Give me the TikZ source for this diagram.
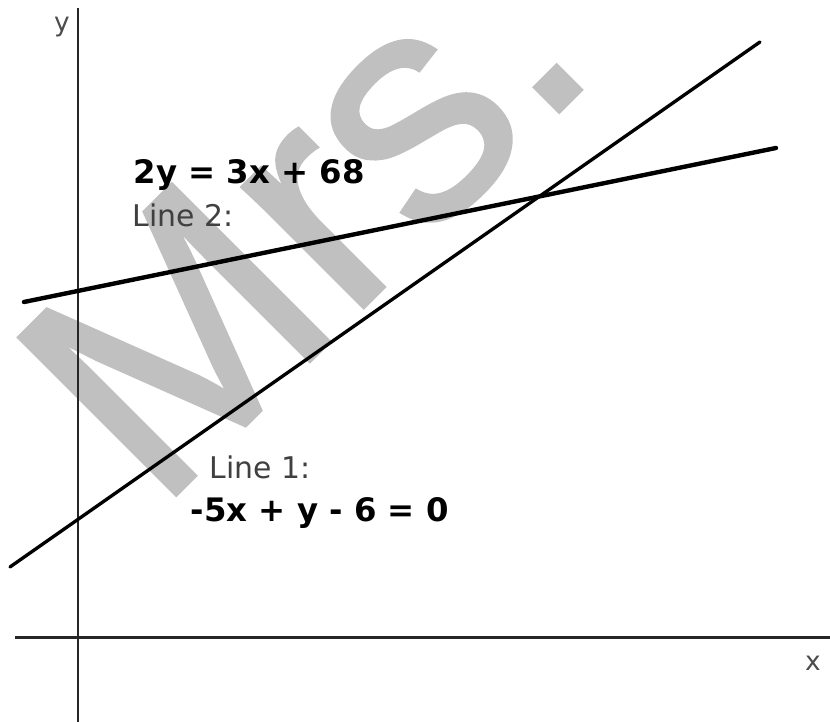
\documentclass[tikz,border=0pt]{standalone}
\usepackage{fontspec}
\setmainfont{DejaVu Sans}
\newfontfamily\wmfont[FakeBold=1.2]{Liberation Sans}
\usetikzlibrary{positioning}
\definecolor{wmgray}{HTML}{C0C0C0}
\tikzset{axis/.style = {draw=black!85, line width=0.85pt}}
\tikzset{graphline/.style = {draw=black, line width=1.1pt, line cap=round}}
\tikzset{eqn/.style = {anchor=base west, inner sep=0,
                       font=\fontsize{9.2}{11}\selectfont\bfseries}}
\tikzset{linelbl/.style = {anchor=base west, inner sep=0, text=black!75,
                           font=\fontsize{8.5}{10}\selectfont}}
\tikzset{axlbl/.style = {inner sep=0, text=black!70,
                         font=\fontsize{7.5}{9}\selectfont}}
\tikzset{wmark/.style = {anchor=base west, rotate=45, inner sep=0, text=wmgray,
                         font=\wmfont\fontsize{92}{100}\selectfont}}

\begin{document}
\begin{tikzpicture}
    \useasboundingbox (0,0) rectangle (8.3,7.22);
    % watermark behind everything
    \node[wmark] (wm) at (1.57,2.08) {Mrs.};
    % axes
    \coordinate (ybot) at (0.78,0);
    \coordinate (ytop) at (0.78,7.14);
    \coordinate (xleft) at (0.15,0.84);
    \coordinate (xright) at (8.3,0.84);
    \draw[axis] (ybot) -- (ytop);
    \draw[axis] (xleft) -- (xright);
    \node[axlbl] (ylab) at (0.62,6.95) {y};
    \node[axlbl] (xlab) at (8.13,0.59) {x};
    % the two lines
    \coordinate (p1) at (0.10,1.55);
    \coordinate (q1) at (7.60,6.80);
    \coordinate (p2) at (0.24,4.20);
    \coordinate (q2) at (7.76,5.74);
    \draw[graphline, line width=0.95pt] (p1) -- (q1);
    \draw[graphline, line width=1.25pt] (p2) -- (q2);
    % labels
    \node[eqn] (eq2) at (1.33,5.38) {2y = 3x + 68};
    \node[linelbl] (l2) at (1.32,4.95) {Line 2:};
    \node[linelbl] (l1) at (2.09,2.43) {Line 1:};
    \node[eqn] (eq1) at (1.90,2.00) {-5x + y - 6 = 0};
\end{tikzpicture}
\end{document}
